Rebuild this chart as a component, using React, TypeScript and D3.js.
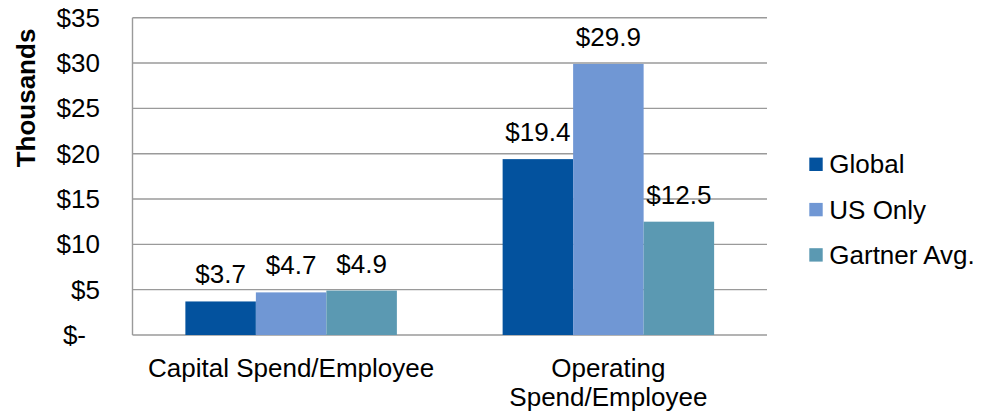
import React from "react";
import * as d3 from "d3";

const categories = ["Capital Spend/Employee", "Operating Spend/Employee"];
const categoryLines = [["Capital Spend/Employee"], ["Operating", "Spend/Employee"]];
const seriesNames = ["Global", "US Only", "Gartner Avg."];
const globalValues = [3.7, 19.4];
const usOnlyValues = [4.7, 29.9];
const gartnerValues = [4.9, 12.5];
const yTicks = [0, 5, 10, 15, 20, 25, 30, 35];
const colors = ["#03529E", "#7097D4", "#5B99B2"];

const W = 997;
const H = 412;
const FONT = "'Liberation Sans', Arial, sans-serif";

export default function App() {
  const series = [globalValues, usOnlyValues, gartnerValues];
  const x0 = 132.5;
  const x1 = 767;
  const y = d3.scaleLinear().domain([0, 35]).range([335, 17.7]);
  const xBand = d3
    .scaleBand<string>()
    .domain(categories)
    .range([x0, x1])
    .paddingInner(1 / 3)
    .paddingOuter(1 / 6);
  const xSub = d3
    .scaleBand<string>()
    .domain(seriesNames)
    .range([0, xBand.bandwidth()])
    .padding(0);
  const fmtTick = (v: number) => (v === 0 ? "$-" : `$${v}`);
  const gridColor = "#9a9a9a";

  return (
    <svg
      width={W}
      height={H}
      style={{ position: "absolute", left: 0, top: 0 }}
      fontFamily={FONT}
    >
      <rect x={0} y={0} width={W} height={H} fill="#fff" />
      {yTicks.map((t) => (
        <line
          key={`g${t}`}
          x1={x0}
          x2={x1}
          y1={y(t)}
          y2={y(t)}
          stroke={gridColor}
          strokeWidth={1.4}
        />
      ))}
      <line x1={x0} x2={x0} y1={y(35)} y2={y(0)} stroke={gridColor} strokeWidth={1.4} />
      {yTicks.map((t) => (
        <text
          key={`t${t}`}
          x={t === 0 ? 86 : 100}
          y={y(t) + 9}
          textAnchor="end"
          fontSize={26}
          fill="#000"
        >
          {fmtTick(t)}
        </text>
      ))}
      <text
        transform={`translate(35,98) rotate(-90)`}
        textAnchor="middle"
        fontSize={26}
        fontWeight="bold"
        fill="#000"
      >
        Thousands
      </text>
      {categories.map((c, ci) => (
        <g key={c}>
          {seriesNames.map((s, si) => {
            const v = series[si][ci];
            const bx = (xBand(c) as number) + (xSub(s) as number);
            const bw = xSub.bandwidth();
            return (
              <g key={s}>
                <rect
                  x={bx}
                  y={y(v)}
                  width={bw}
                  height={y(0) - y(v)}
                  fill={colors[si]}
                />
                <text
                  x={bx + bw / 2}
                  y={y(v) - 18}
                  textAnchor="middle"
                  fontSize={26}
                  fill="#000"
                >
                  {`$${v.toFixed(1)}`}
                </text>
              </g>
            );
          })}
          {categoryLines[ci].map((line, li) => (
            <text
              key={li}
              x={(xBand(c) as number) + xBand.bandwidth() / 2}
              y={376.7 + li * 29}
              textAnchor="middle"
              fontSize={26}
              fill="#000"
            >
              {line}
            </text>
          ))}
        </g>
      ))}
      {seriesNames.map((s, si) => (
        <g key={s} transform={`translate(809.3, ${164.3 + si * 45.3})`}>
          <rect x={0} y={-6.7} width={13.4} height={13.4} fill={colors[si]} />
          <text x={20} y={9} fontSize={26} fill="#000">
            {s}
          </text>
        </g>
      ))}
    </svg>
  );
}
